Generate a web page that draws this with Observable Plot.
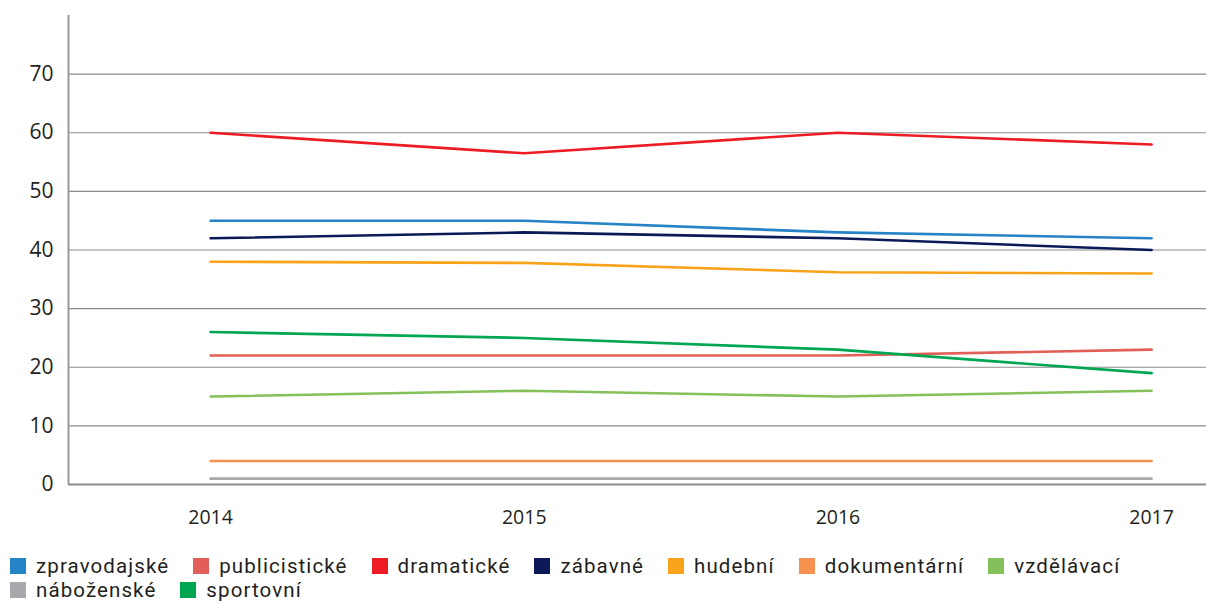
<!DOCTYPE html>
<html><head><meta charset="utf-8">
<script src="https://cdn.jsdelivr.net/npm/d3@7"></script>
<script src="https://cdn.jsdelivr.net/npm/@observablehq/plot@0.6"></script>
<style>
body{margin:0;background:#fff;font-family:"Open Sans",sans-serif;overflow:hidden;}
#legend{display:flex;flex-wrap:wrap;width:1196px;padding-left:10px;margin-top:16px;font-family:Roboto,sans-serif;font-size:20.5px;letter-spacing:1.1px;color:#231f20;line-height:24px;}
.item{display:flex;align-items:center;margin-right:24px;height:24px;}
.item span{display:inline-block;line-height:24px;height:24px;}
.sw{width:16px;height:16px;margin-right:10px;}
</style></head><body>
<div id="chart"></div>
<div id="legend"></div>
<script>
const years = [2014, 2015, 2016, 2017];
const seriesNames = ["zpravodajské","publicistické","dramatické","zábavné","hudební","dokumentární","vzdělávací","náboženské","sportovní"];
const colors = ["#2683c6","#e25f59","#ed1c24","#0b1957","#f9a31b","#f7914f","#84c15b","#a7a9ac","#00a651"];
const zpravodajske = [45, 45, 43, 42];
const publicisticke = [22, 22, 22, 23];
const dramaticke = [60, 56.5, 60, 58];
const zabavne = [42, 43, 42, 40];
const hudebni = [38, 37.8, 36.2, 36];
const dokumentarni = [4, 4, 4, 4];
const vzdelavaci = [15, 16, 15, 16];
const nabozenske = [1, 1, 1, 1];
const sportovni = [26, 25, 23, 19];
const yTicks = [0, 10, 20, 30, 40, 50, 60, 70];
const gridTicks = [10, 20, 30, 40, 50, 60, 70];

const allValues = [zpravodajske, publicisticke, dramaticke, zabavne, hudebni, dokumentarni, vzdelavaci, nabozenske, sportovni];
const data = [];
seriesNames.forEach((s, i) => years.forEach((yr, j) => data.push({series: s, year: yr, value: allValues[i][j]})));

const xDomain = [2013.547, 2017.175];
const chart = Plot.plot({
  width: 1206, height: 538,
  marginLeft: 68, marginRight: 0, marginTop: 15, marginBottom: 54,
  style: {fontFamily: "Open Sans, sans-serif", fontSize: "19px", color: "#231f20", overflow: "visible"},
  x: {domain: xDomain, ticks: years, tickFormat: d => String(d), label: null},
  y: {domain: [0, 80], ticks: yTicks, label: null},
  color: {domain: seriesNames, range: colors},
  marks: [
    Plot.ruleY(gridTicks, {stroke: "#8c8c8c", strokeWidth: 1.2}),
    Plot.ruleY([0], {stroke: "#8c8c8c", strokeWidth: 2}),
    Plot.ruleX([xDomain[0]], {stroke: "#9a9a9a", strokeWidth: 2}),
    Plot.axisY({ticks: yTicks, tickSize: 0, tickPadding: 15, fontSize: 21, label: null}),
    Plot.axisX({ticks: years, tickSize: 0, tickPadding: 26, fontSize: 19.5, label: null, tickFormat: d => String(d)}),
    Plot.line(data, {x: "year", y: "value", z: "series", stroke: "series", strokeWidth: 2.6})
  ]
});
document.getElementById("chart").appendChild(chart);

const legend = document.getElementById("legend");
seriesNames.forEach((s, i) => {
  const it = document.createElement("div"); it.className = "item";
  const sw = document.createElement("div"); sw.className = "sw"; sw.style.background = colors[i];
  const t = document.createElement("span"); t.textContent = s;
  it.appendChild(sw); it.appendChild(t); legend.appendChild(it);
});
</script>
</body></html>
